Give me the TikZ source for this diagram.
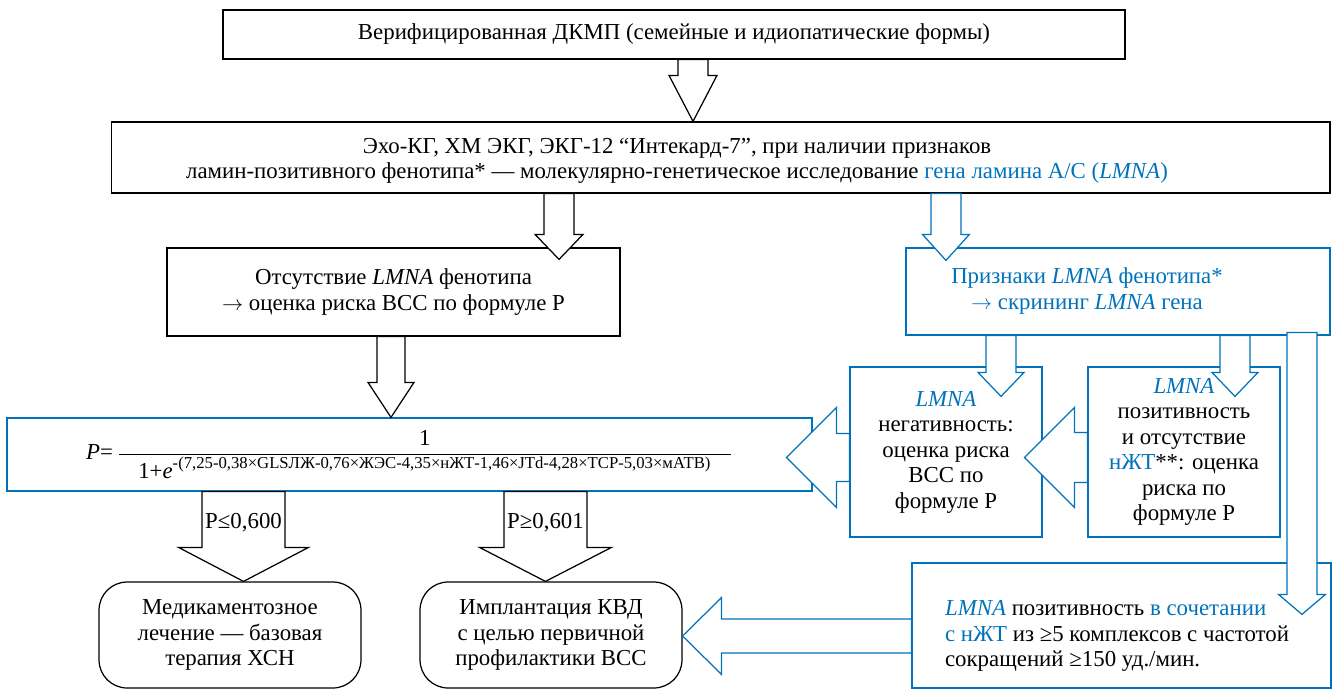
\documentclass[tikz,border=0pt]{standalone}
\usepackage{fontspec}
\setmainfont{Liberation Serif}
\usetikzlibrary{calc}
\definecolor{lblue}{RGB}{0,114,188}
\newcommand{\pxu}{0.569pt}
% block arrows: colour, tail, tip, shaft half-width, head half-width, head length (px)
\newcommand{\arrdown}[6]{%
  \draw[barrow,draw=#1] let \p1=#2, \p2=#3 in
    (\x1-#4*\pxu,\y1) -- (\x1-#4*\pxu,\y2+#6*\pxu) -- (\x1-#5*\pxu,\y2+#6*\pxu) -- (\x1,\y2)
    -- (\x1+#5*\pxu,\y2+#6*\pxu) -- (\x1+#4*\pxu,\y2+#6*\pxu) -- (\x1+#4*\pxu,\y1) -- cycle;}
\newcommand{\arrleft}[6]{%
  \draw[barrow,draw=#1] let \p1=#2, \p2=#3 in
    (\x1,\y1+#4*\pxu) -- (\x2+#6*\pxu,\y1+#4*\pxu) -- (\x2+#6*\pxu,\y1+#5*\pxu) -- (\x2,\y1)
    -- (\x2+#6*\pxu,\y1-#5*\pxu) -- (\x2+#6*\pxu,\y1-#4*\pxu) -- (\x1,\y1-#4*\pxu) -- cycle;}
\begin{document}
\begin{tikzpicture}[x=0.02cm,y=-0.02cm,
  font=\fontsize{13}{14.5}\selectfont,
  box/.style={draw,line width=0.7pt,inner sep=0pt,align=center},
  bbox/.style={box,draw=lblue},
  rbox/.style={box,rounded corners=16pt},
  barrow/.style={fill=white,line width=0.7pt,line join=miter},
  lbl/.style={inner sep=0pt}]
% Алгоритм оценки риска ВСС при ДКМП
\useasboundingbox (0,0) rectangle (1332,690);
\node[box,minimum width=18.04cm,minimum height=0.98cm] (verif) at (674,34.5) {Верифицированная ДКМП (семейные и идиопатические формы)};
\node[box,minimum width=24.38cm,minimum height=1.42cm] (eho) at (720.5,157.5) {};
\node[lbl,align=center] (ehotxt) at (677,161) {Эхо-КГ, ХМ ЭКГ, ЭКГ-12 “Интекард-7”, при наличии признаков\\ ламин-позитивного фенотипа* — молекулярно-генетическое исследование \textcolor{lblue}{гена ламина А/С (\textit{LMNA})}};
\node[box,minimum width=9.06cm,minimum height=1.76cm] (nolmna) at (393.5,292) {Отсутствие \textit{LMNA} фенотипа\\ $\rightarrow$ оценка риска ВСС по формуле Р};
\node[bbox,minimum width=8.48cm,minimum height=1.74cm] (priz) at (1118,291.5) {};
\node[lbl,align=center,text=lblue] (priztxt) at (1087,291) {Признаки \textit{LMNA} фенотипа*\\ $\rightarrow$ скрининг \textit{LMNA} гена};
\node[bbox,minimum width=16.1cm,minimum height=1.46cm] (formula) at (409.5,454.5) {$\mbox{\textit{P}=\,}\displaystyle\frac{\mbox{1}}{\mbox{\hspace{11pt}1+\textit{e}}^{\mbox{\fontsize{9.5}{11}\selectfont -(7,25-0,38×GLSЛЖ-0,76×ЖЭС-4,35×нЖТ-1,46×JTd-4,28×TCP-5,03×мАТВ)\hspace{11pt}}}}$};
\node[bbox,minimum width=3.84cm,minimum height=3.4cm] (neg) at (946,452) {\textcolor{lblue}{\textit{LMNA}}\\ негативность:\\ оценка риска\\ ВСС по\\ формуле Р};
\node[bbox,minimum width=3.84cm,minimum height=3.4cm] (pos) at (1184,452) {\textcolor{lblue}{\textit{LMNA}}\\ позитивность\\ и отсутствие\\ \textcolor{lblue}{нЖТ}**: оценка\\ риска по\\ формуле Р};
\node[bbox,minimum width=8.38cm,minimum height=2.5cm] (combo) at (1121.5,625.5) {};
\node[lbl,align=left] (combotxt) at (1117,636) {\textcolor{lblue}{\textit{LMNA}} позитивность \textcolor{lblue}{в сочетании}\\ \textcolor{lblue}{с нЖТ} из ≥5 комплексов с частотой\\ сокращений ≥150 уд./мин.};
\node[rbox,minimum width=5.24cm,minimum height=2.12cm] (med) at (230,635) {Медикаментозное\\ лечение — базовая\\ терапия ХСН};
\node[rbox,minimum width=5.24cm,minimum height=2.12cm] (impl) at (551,635) {Имплантация КВД\\ с целью первичной\\ профилактики ВСС};
\arrdown{black}{([xshift=0.38cm]verif.south)}{(eho.north)}{15}{24}{46}
\arrdown{black}{([xshift=-3.23cm]eho.south)}{([yshift=-0.24cm]nolmna.north)}{15}{24}{25}
\arrdown{lblue}{([xshift=4.51cm]eho.south)}{([yshift=-0.26cm]priz.north)}{15}{23.5}{26}
\arrdown{black}{([xshift=-0.05cm]nolmna.south)}{(formula.north)}{14}{23}{35}
\arrdown{lblue}{([xshift=-2.34cm]priz.south)}{([yshift=-0.6cm]neg.north)}{15}{23}{24}
\arrdown{lblue}{([xshift=2.34cm]priz.south)}{([yshift=-0.6cm]pos.north)}{15}{23}{24}
\arrdown{lblue}{([xshift=3.68cm,yshift=0.06cm]priz.south)}{([yshift=-1.04cm]combo.north)}{15}{23.5}{20}
\arrleft{lblue}{([yshift=-0.11cm]pos.west)}{([xshift=-0.36cm]neg.east)}{25}{50}{50}
\arrleft{lblue}{([yshift=-0.11cm]neg.west)}{([xshift=-0.52cm]formula.east)}{24}{50}{50}
\arrleft{lblue}{([yshift=-0.21cm]combo.west)}{(impl.east)}{17}{38.5}{39}
\arrdown{black}{([xshift=-3.32cm]formula.south)}{(med.north)}{41.5}{65}{34}
\arrdown{black}{([xshift=2.72cm]formula.south)}{(impl.north)}{41.5}{66}{34}
\node[lbl] (le) at ([xshift=-3.32cm,yshift=-0.62cm]formula.south) {P≤0,600};
\node[lbl] (ge) at ([xshift=2.72cm,yshift=-0.62cm]formula.south) {P≥0,601};
\end{tikzpicture}
\end{document}
